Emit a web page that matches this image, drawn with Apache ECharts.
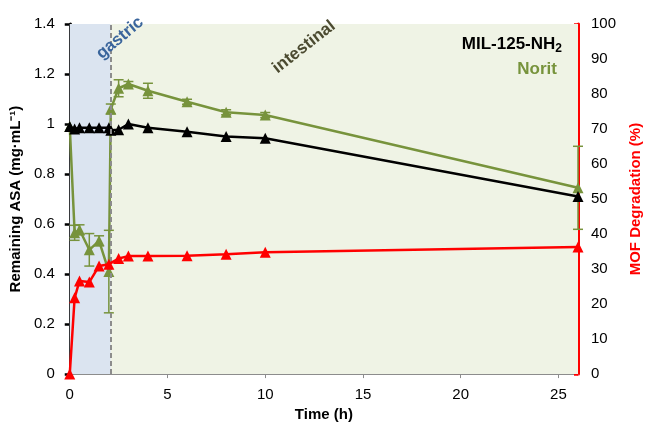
<!DOCTYPE html>
<html lang="en">
<head>
    <meta charset="UTF-8">
    <title>ASA release</title>
    <style>
        html, body { margin: 0; padding: 0; background: #fff; }
        #main { width: 651px; height: 427px; }
    </style>
    <script src="https://cdn.jsdelivr.net/npm/echarts@6/dist/echarts.min.js"></script>
</head>
<body>
<div id="main"></div>
<script>
    // time points (h)
    var timeAsa = [0, 0.25, 0.5, 1, 1.5, 2, 2.1, 2.5, 3, 4, 6, 8, 10, 26];
    var timeMof = [0, 0.25, 0.5, 1, 1.5, 2, 2.5, 3, 4, 6, 8, 10, 26];

    // remaining ASA (mg/mL)
    var milAsa = [0.99, 0.98, 0.985, 0.985, 0.985, 0.985, 0.975, 0.977, 1.0, 0.985, 0.969, 0.95, 0.943, 0.71];
    var noritAsa = [0.99, 0.565, 0.577, 0.497, 0.533, 0.41, 1.06, 1.143, 1.16, 1.133, 1.089, 1.047, 1.036, 0.745];
    var noritErr = [0, 0.03, 0.02, 0.065, 0.02, 0.165, 0.02, 0.034, 0.01, 0.03, 0.01, 0.01, 0.01, 0.166];

    // MOF degradation (%)
    var mofDeg = [0, 21.8, 26.6, 26.3, 30.9, 31.4, 33.0, 33.7, 33.7, 33.8, 34.2, 34.8, 36.3];

    var gastricEnd = 2.1;
    var timeMax = 26;

    var GREEN = '#77933c';
    var FONT = 'Liberation Sans, Arial, sans-serif';

    function pairs(xs, ys) {
        return xs.map(function (x, i) { return [x, ys[i]]; });
    }

    var errData = timeAsa.map(function (x, i) {
        return [x, noritAsa[i] - noritErr[i], noritAsa[i] + noritErr[i]];
    }).filter(function (d) { return d[2] - d[1] > 0; });

    var myChart = echarts.init(document.getElementById('main'));

    var option = {
        animation: false,
        textStyle: { fontFamily: FONT },
        grid: { left: 68, right: 64, top: 24, bottom: 52 },
        legend: {
            right: 79,
            top: 31,
            orient: 'vertical',
            align: 'right',
            itemWidth: 0,
            itemGap: 6,
            selectedMode: false,
            z: 10,
            textStyle: { fontFamily: FONT, fontSize: 17, fontWeight: 'bold' },
            formatter: function (name) {
                if (name === 'MIL-125-NH2') return '{a|MIL-125-NH}{s|2}';
                return '{g|' + name + '}';
            },
            data: [
                { name: 'MIL-125-NH2', icon: 'none', textStyle: {
                    rich: {
                        a: { color: '#000', fontSize: 17, fontWeight: 'bold', fontFamily: FONT },
                        s: { color: '#000', fontSize: 12, fontWeight: 'bold', fontFamily: FONT, verticalAlign: 'bottom', padding: [8, 0, 0, 0] }
                    } } },
                { name: 'Norit', icon: 'none', textStyle: {
                    rich: { g: { color: GREEN, fontSize: 17, fontWeight: 'bold', fontFamily: FONT, padding: [0, 5, 0, 0] } } } }
            ]
        },
        xAxis: {
            type: 'value',
            min: 0,
            max: timeMax,
            interval: 5,
            name: 'Time (h)',
            nameLocation: 'middle',
            nameGap: 32,
            nameTextStyle: { fontSize: 15, fontWeight: 'bold', color: '#000' },
            axisLine: { lineStyle: { color: '#8c8c8c', width: 1 } },
            axisTick: { length: 4, lineStyle: { color: '#8c8c8c' } },
            axisLabel: { fontSize: 15, color: '#000', margin: 13, showMaxLabel: false },
            splitLine: { show: false }
        },
        yAxis: [{
            type: 'value',
            min: 0,
            max: 1.4,
            interval: 0.2,
            name: 'Remaining ASA (mg·mL⁻¹)',
            nameLocation: 'middle',
            nameRotate: 90,
            nameGap: 42,
            nameTextStyle: { fontSize: 15, fontWeight: 'bold', color: '#000' },
            axisLine: { show: true, lineStyle: { color: '#000', width: 3 } },
            axisTick: { show: true, length: 5, lineStyle: { color: '#000', width: 2.5 } },
            axisLabel: { fontSize: 15, color: '#000', margin: 15 },
            splitLine: { show: false }
        }, {
            type: 'value',
            position: 'right',
            min: 0,
            max: 100,
            interval: 10,
            name: 'MOF Degradation (%)',
            nameLocation: 'middle',
            nameRotate: 90,
            nameGap: 50,
            nameTextStyle: { fontSize: 15, fontWeight: 'bold', color: '#ff0000' },
            axisLine: { show: true, lineStyle: { color: '#ff0000', width: 3 } },
            axisTick: { show: true, inside: true, length: 4, lineStyle: { color: '#ff0000', width: 2.5 } },
            axisLabel: { fontSize: 15, color: '#000', margin: 13 },
            splitLine: { show: false }
        }],
        graphic: [{
            type: 'text',
            x: 120, y: 38,
            z: 100,
            rotation: 40 * Math.PI / 180,
            style: { text: 'gastric', fill: '#3a659c', font: 'bold 17px ' + FONT, align: 'center', verticalAlign: 'middle' }
        }, {
            type: 'text',
            x: 304, y: 47,
            z: 100,
            rotation: 38 * Math.PI / 180,
            style: { text: 'intestinal', fill: '#4b4a30', font: 'bold 17px ' + FONT, align: 'center', verticalAlign: 'middle' }
        }],
        series: [{
            name: 'Norit error',
            type: 'custom',
            yAxisIndex: 0,
            z: 2,
            silent: true,
            data: errData,
            renderItem: function (params, api) {
                var x = api.value(0);
                var lo = api.coord([x, api.value(1)]);
                var hi = api.coord([x, api.value(2)]);
                var w = 5;
                var st = { stroke: GREEN, lineWidth: 1.5 };
                return {
                    type: 'group',
                    children: [
                        { type: 'line', shape: { x1: lo[0], y1: lo[1], x2: hi[0], y2: hi[1] }, style: st },
                        { type: 'line', shape: { x1: lo[0] - w, y1: lo[1], x2: lo[0] + w, y2: lo[1] }, style: st },
                        { type: 'line', shape: { x1: hi[0] - w, y1: hi[1], x2: hi[0] + w, y2: hi[1] }, style: st }
                    ]
                };
            },
            markArea: {
                silent: true,
                data: [
                    [{ xAxis: 0, itemStyle: { color: '#dbe4f0' } }, { xAxis: gastricEnd }],
                    [{ xAxis: gastricEnd, itemStyle: { color: '#eff3e5' } }, { xAxis: timeMax }]
                ]
            },
            markLine: {
                silent: true,
                symbol: 'none',
                label: { show: false },
                lineStyle: { color: '#8c8c8c', type: [5, 3], width: 2 },
                data: [{ xAxis: gastricEnd }]
            }
        }, {
            name: 'Norit',
            type: 'line',
            yAxisIndex: 0,
            z: 3,
            data: pairs(timeAsa, noritAsa),
            symbol: 'triangle',
            symbolSize: 11,
            itemStyle: { color: GREEN },
            lineStyle: { color: GREEN, width: 2.5 }
        }, {
            name: 'MIL-125-NH2',
            type: 'line',
            yAxisIndex: 0,
            z: 4,
            data: pairs(timeAsa, milAsa),
            symbol: 'triangle',
            symbolSize: 11,
            itemStyle: { color: '#000' },
            lineStyle: { color: '#000', width: 2.5 }
        }, {
            name: 'MOF',
            type: 'line',
            yAxisIndex: 1,
            z: 5,
            data: pairs(timeMof, mofDeg),
            symbol: 'triangle',
            symbolSize: 11,
            itemStyle: { color: '#ff0000' },
            lineStyle: { color: '#ff0000', width: 2.5 }
        }]
    };

    option && myChart.setOption(option);
</script>
</body>
</html>
